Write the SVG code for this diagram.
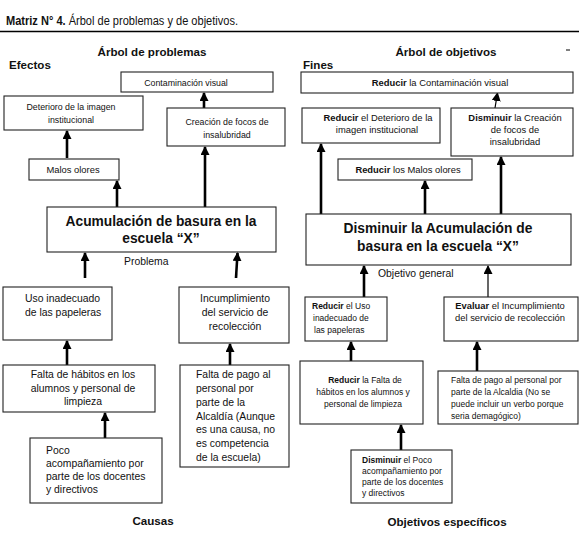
<svg xmlns="http://www.w3.org/2000/svg" width="579" height="537" viewBox="0 0 579 537">
<defs>
<style>
text{font-family:"Liberation Sans",Arial,sans-serif;fill:#111}
.t{font-size:10.4px}
.m{font-size:8.8px}
.s{font-size:8.5px}
.r{font-size:9.4px}
.h{font-size:11.6px;font-weight:bold}
.big{font-size:13.8px;font-weight:bold}
.b{font-weight:bold}
.box rect{fill:#fff;stroke:#222;stroke-width:1.1}
.c{text-anchor:middle}
.thick{stroke:#000;stroke-width:2.6;fill:none}
.thin{stroke:#000;stroke-width:1.2;fill:none}
</style>
<marker id="ah" markerUnits="userSpaceOnUse" markerWidth="9" markerHeight="9" refX="8" refY="4.5" orient="auto">
<path d="M0,0 L9,4.5 L0,9 z" fill="#000"/>
</marker>
</defs>
<rect width="579" height="537" fill="#fff"/>
<g id="title">
<text x="6" y="25" font-size="12" textLength="232" lengthAdjust="spacingAndGlyphs"><tspan class="b">Matriz N° 4.</tspan> Árbol de problemas y de objetivos.</text>
<line x1="0" y1="31.5" x2="579" y2="31.5" stroke="#000" stroke-width="1.5"/>
</g>
<g id="labels">
<text class="h c" x="152" y="56">Árbol de problemas</text>
<text class="h" x="9" y="69">Efectos</text>
<text class="h c" x="446" y="56">Árbol de objetivos</text>
<text class="h" x="303" y="69">Fines</text>
<line x1="566" y1="50" x2="570" y2="50" stroke="#000" stroke-width="1"/>
<text class="t" x="124" y="265" font-size="9.8">Problema</text>
<text class="h c" x="153" y="525" font-size="10.8">Causas</text>
<text class="t" x="378" y="277" font-size="9.8">Objetivo general</text>
<text class="h c" x="447" y="526" font-size="10.8">Objetivos específicos</text>
</g>
<g id="connectors">
<line class="thick" x1="67" y1="158" x2="67" y2="131" marker-end="url(#ah)"/>
<line class="thick" x1="117" y1="207" x2="117" y2="181" marker-end="url(#ah)"/>
<line class="thick" x1="205" y1="207" x2="205" y2="147" marker-end="url(#ah)"/>
<line class="thick" x1="204" y1="108" x2="204" y2="93" marker-end="url(#ah)"/>
<line class="thick" x1="85" y1="278" x2="85" y2="253" marker-end="url(#ah)"/>
<line class="thick" x1="236" y1="278" x2="237.5" y2="253" marker-end="url(#ah)"/>
<line class="thick" x1="67" y1="365" x2="67" y2="341" marker-end="url(#ah)"/>
<line class="thick" x1="230" y1="365" x2="230" y2="344" marker-end="url(#ah)"/>
<line class="thick" x1="105" y1="438" x2="105" y2="413" marker-end="url(#ah)"/>
<line class="thin" x1="495" y1="108" x2="497.5" y2="93" marker-end="url(#ah)"/>
<line class="thick" x1="321" y1="214" x2="321" y2="144" marker-end="url(#ah)"/>
<line class="thick" x1="425" y1="214" x2="425" y2="181" marker-end="url(#ah)"/>
<line class="thick" x1="501" y1="214" x2="501" y2="157" marker-end="url(#ah)"/>
<line class="thick" x1="364" y1="297" x2="364" y2="266" marker-end="url(#ah)"/>
<line class="thin" x1="488" y1="297" x2="488" y2="266" marker-end="url(#ah)"/>
<line class="thick" x1="351" y1="361" x2="351" y2="342" marker-end="url(#ah)"/>
<line class="thick" x1="477" y1="371" x2="477" y2="342" marker-end="url(#ah)"/>
<line class="thick" x1="401" y1="450" x2="401" y2="425" marker-end="url(#ah)"/>
</g>
<g id="p-contaminacion" class="box"><rect x="121" y="72" width="152" height="20"/><text class="m c" x="186" y="86" font-size="9.2">Contaminación visual</text></g>
<g id="p-deterioro" class="box"><rect x="4" y="96" width="139" height="34"/><text class="m c" x="71" y="110">Deterioro de la imagen</text><text class="m c" x="71" y="123">institucional</text></g>
<g id="p-creacion" class="box"><rect x="167" y="108" width="118" height="38"/><text class="m c" x="227" y="125">Creación de focos de</text><text class="m c" x="227" y="138">insalubridad</text></g>
<g id="p-malos" class="box"><rect x="29" y="159" width="90" height="21"/><text class="r c" x="73" y="173">Malos olores</text></g>
<g id="p-acumulacion" class="box"><rect x="47" y="207" width="229" height="45"/><text class="big c" x="161" y="226">Acumulación de basura en la</text><text class="big c" x="161" y="243">escuela “X”</text></g>
<g id="p-uso" class="box"><rect x="3" y="287" width="109" height="53"/><text class="t" x="25" y="302">Uso inadecuado</text><text class="t" x="25" y="316">de las papeleras</text></g>
<g id="p-incumplimiento" class="box"><rect x="179" y="287" width="110" height="56"/><text class="t c" x="235" y="302">Incumplimiento</text><text class="t c" x="235" y="316">del servicio de</text><text class="t c" x="235" y="330">recolección</text></g>
<g id="p-habitos" class="box"><rect x="3" y="365" width="152" height="47"/><text class="t c" x="83" y="378">Falta de hábitos en los</text><text class="t c" x="83" y="392">alumnos y personal de</text><text class="t c" x="83" y="405">limpieza</text></g>
<g id="p-pago" class="box"><rect x="180" y="365" width="109" height="102"/>
<text class="t" x="196" y="378">Falta de pago al</text><text class="t" x="196" y="392">personal por</text><text class="t" x="196" y="406">parte de la</text><text class="t" x="196" y="420">Alcaldía (Aunque</text><text class="t" x="196" y="433">es una causa, no</text><text class="t" x="196" y="447">es competencia</text><text class="t" x="196" y="461">de la escuela)</text></g>
<g id="p-poco" class="box"><rect x="30" y="438" width="132" height="65"/>
<text class="t" x="46" y="454">Poco</text><text class="t" x="46" y="467">acompañamiento por</text><text class="t" x="46" y="480">parte de los docentes</text><text class="t" x="46" y="493">y directivos</text></g>
<g id="o-contaminacion" class="box"><rect x="301" y="72" width="272" height="21"/><text class="r c" x="440" y="86"><tspan class="b">Reducir</tspan> la Contaminación visual</text></g>
<g id="o-deterioro" class="box"><rect x="302" y="108" width="138" height="35"/><text class="r c" x="378" y="121" font-size="9.8"><tspan class="b">Reducir</tspan> el Deterioro de la</text><text class="r c" x="377" y="133" font-size="9.8">imagen institucional</text></g>
<g id="o-creacion" class="box"><rect x="451" y="108" width="122" height="48"/><text class="r c" x="515" y="121" font-size="9.8"><tspan class="b">Disminuir</tspan> la Creación</text><text class="r c" x="515" y="133" font-size="9.8">de focos de</text><text class="r c" x="515" y="145" font-size="9.8">insalubridad</text></g>
<g id="o-malos" class="box"><rect x="338" y="159" width="134" height="21"/><text class="r c" x="408" y="173"><tspan class="b">Reducir</tspan> los Malos olores</text></g>
<g id="o-acumulacion" class="box"><rect x="306" y="214" width="265" height="51"/><text class="big c" x="438" y="233" font-size="14.2">Disminuir la Acumulación de</text><text class="big c" x="438" y="251" font-size="14.2">basura en la escuela “X”</text></g>
<g id="o-uso" class="box"><rect x="305" y="297" width="82" height="44"/><text class="s" x="312" y="309"><tspan class="b">Reducir</tspan> el Uso</text><text class="s" x="313" y="321">inadecuado de</text><text class="s" x="314" y="333">las papeleras</text></g>
<g id="o-incumplimiento" class="box"><rect x="444" y="297" width="134" height="44"/><text class="r c" x="510" y="309"><tspan class="b">Evaluar</tspan> el Incumplimiento</text><text class="r c" x="510" y="321">del servicio de recolección</text></g>
<g id="o-habitos" class="box"><rect x="300" y="361" width="123" height="63"/><text class="s c" x="365" y="383"><tspan class="b">Reducir</tspan> la Falta de</text><text class="s c" x="363" y="395">hábitos en los alumnos y</text><text class="s c" x="363" y="407">personal de limpieza</text></g>
<g id="o-pago" class="box"><rect x="438" y="371" width="140" height="53"/>
<text class="s" x="451" y="383" font-size="9">Falta de pago al personal por</text><text class="s" x="451" y="395" font-size="9">parte de la Alcaldia (No se</text><text class="s" x="451" y="407" font-size="9">puede incluir un verbo porque</text><text class="s" x="451" y="419" font-size="9">seria demagógico)</text></g>
<g id="o-poco" class="box"><rect x="351" y="450" width="101" height="53"/>
<text class="s" x="362" y="463"><tspan class="b">Disminuir</tspan> el Poco</text><text class="s" x="362" y="474">acompañamiento por</text><text class="s" x="362" y="485">parte de los docentes</text><text class="s" x="362" y="496">y directivos</text></g>
</svg>
